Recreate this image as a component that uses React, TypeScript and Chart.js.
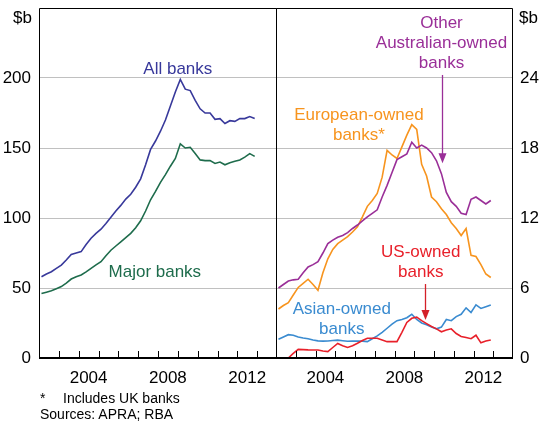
import React, { useEffect, useRef } from "react";
import { Chart, registerables } from "chart.js";

Chart.register(...registerables);

// ---------- data ----------
const quarters = [
  "2002 Q1", "2002 Q2", "2002 Q3", "2002 Q4",
  "2003 Q1", "2003 Q2", "2003 Q3", "2003 Q4",
  "2004 Q1", "2004 Q2", "2004 Q3", "2004 Q4",
  "2005 Q1", "2005 Q2", "2005 Q3", "2005 Q4",
  "2006 Q1", "2006 Q2", "2006 Q3", "2006 Q4",
  "2007 Q1", "2007 Q2", "2007 Q3", "2007 Q4",
  "2008 Q1", "2008 Q2", "2008 Q3", "2008 Q4",
  "2009 Q1", "2009 Q2", "2009 Q3", "2009 Q4",
  "2010 Q1", "2010 Q2", "2010 Q3", "2010 Q4",
  "2011 Q1", "2011 Q2", "2011 Q3", "2011 Q4",
  "2012 Q1", "2012 Q2", "2012 Q3", "2012 Q4",
];

const allBanks = [58, 60, 61.6, 64, 66.4, 70, 74, 75, 76, 81, 85.5, 89, 92, 96, 100.5, 105, 109, 113.5, 117, 122, 128, 138, 149, 155, 162, 170, 180, 190, 199, 192, 191, 184, 178, 175, 175, 170.5, 171, 167.5, 169.5, 169, 171, 171, 172.5, 171];
const majorBanks = [46, 47, 48, 49.5, 51, 53.5, 56.4, 58, 59.3, 61.5, 64, 66.5, 68.8, 73, 77, 80, 83, 86, 89, 93, 98, 105, 113, 119, 125.5, 131, 137, 142.5, 153, 150, 150.5, 146, 141.5, 141, 141, 139, 140, 138, 139.5, 140.5, 141.5, 143.5, 146, 144];

const otherAustralianOwned = [6.0, 6.3, 6.6, 6.7, 6.75, 7.3, 7.8, 8.0, 8.25, 9.0, 9.8, 10.1, 10.35, 10.5, 10.75, 11.1, 11.4, 11.75, 12.1, 12.4, 12.7, 13.8, 14.8, 15.9, 17.0, 17.25, 17.5, 18.5, 18.0, 18.25, 18.0, 17.6, 16.9, 15.8, 14.2, 13.4, 13.0, 12.4, 12.3, 13.6, 13.8, 13.5, 13.2, 13.5];
const europeanOwned = [4.2, 4.5, 4.75, 5.4, 6.05, 6.4, 6.75, 6.3, 5.8, 7.3, 8.5, 9.3, 9.8, 10.1, 10.4, 10.8, 11.25, 12.1, 13.0, 13.5, 14.1, 15.5, 17.8, 17.4, 17.1, 18.1, 19.1, 20.0, 19.6, 16.6, 15.6, 13.8, 13.4, 12.8, 12.3, 11.6, 11.1, 10.5, 11.1, 8.8, 8.7, 8.0, 7.2, 6.9];
const asianOwned = [1.6, 1.8, 2.0, 1.95, 1.8, 1.72, 1.65, 1.55, 1.47, 1.45, 1.46, 1.5, 1.53, 1.48, 1.43, 1.45, 1.46, 1.45, 1.4, 1.65, 1.9, 2.2, 2.55, 2.9, 3.2, 3.3, 3.45, 3.75, 3.3, 3.0, 2.85, 2.65, 2.5, 2.65, 3.3, 3.2, 3.55, 3.75, 4.3, 3.9, 4.55, 4.25, 4.4, 4.55];
const usOwned = [0, 0, 0, 0.4, 0.74, 0.72, 0.7, 0.69, 0.68, 0.6, 0.55, 0.9, 1.25, 1.05, 0.9, 1.05, 1.26, 1.5, 1.69, 1.69, 1.69, 1.55, 1.4, 1.4, 1.4, 2.2, 3.05, 3.4, 3.5, 3.2, 2.95, 2.7, 2.5, 2.25, 2.4, 2.5, 2.1, 1.85, 1.75, 1.65, 1.95, 1.3, 1.45, 1.55];

const leftTicks = [0, 50, 100, 150, 200];
const rightTicks = [0, 6, 12, 18, 24];
const yearLabels = [2004, 2008, 2012];
const xMin = 2002;
const xMax = 2014;
const leftMax = 250;
const rightMax = 30;

// ---------- styles ----------
const FONT = "Arial, 'Liberation Sans', Helvetica, sans-serif";
const C_ALL = "#38399b";
const C_MAJOR = "#1e6c4c";
const C_OTHER = "#9a2f98";
const C_EURO = "#f7941e";
const C_US = "#e8202a";
const C_ASIAN = "#3a8bd0";
const GRID = "#c0c0c0";

function quarterToYear(q: string): number {
  const [y, qq] = q.split(" Q");
  return Number(y) + (Number(qq) - 1) * 0.25 + 0.125;
}
const toPoints = (vals: number[]) => vals.map((v, i) => ({ x: quarterToYear(quarters[i]), y: v }));

type Note = { lines: string[]; color: string; x: number; y: number };
type Arrow = { x: number; from: number; to: number; color: string };

const leftNotes: Note[] = [
  { lines: ["All banks"], color: C_ALL, x: 2009.0, y: 206.2 },
  { lines: ["Major banks"], color: C_MAJOR, x: 2007.84, y: 60.9 },
];
const rightNotes: Note[] = [
  { lines: ["Other", "Australian-owned", "banks"], color: C_OTHER, x: 2010.38, y: 28.7 },
  { lines: ["European-owned", "banks*"], color: C_EURO, x: 2006.2, y: 20.83 },
  { lines: ["US-owned", "banks"], color: C_US, x: 2009.33, y: 9.03 },
  { lines: ["Asian-owned", "banks"], color: C_ASIAN, x: 2005.33, y: 4.17 },
];
const rightArrows: Arrow[] = [
  { x: 2010.39, from: 24.26, to: 16.69, color: C_OTHER },
  { x: 2009.54, from: 6.34, to: 3.26, color: "#d42028" },
];

function makePlugin(side: "left" | "right", notes: Note[], arrows: Arrow[]) {
  return {
    id: "frameAndNotes" + side,
    afterDatasetsDraw(chart: any) {
      const { ctx, chartArea, scales } = chart;
      const xs = scales.x;
      const ys = scales.y;
      const l = Math.round(chartArea.left) + 0.5;
      const r = Math.round(chartArea.right) - 0.5;
      const t = Math.round(chartArea.top) + 0.5;
      const b = Math.round(chartArea.bottom);
      ctx.save();
      // frame
      ctx.strokeStyle = "#000";
      ctx.lineWidth = 1;
      ctx.beginPath();
      ctx.moveTo(l, b);
      ctx.lineTo(l, t);
      ctx.lineTo(r, t);
      ctx.lineTo(r, b);
      ctx.stroke();
      ctx.lineWidth = 2;
      ctx.beginPath();
      ctx.moveTo(chartArea.left, b);
      ctx.lineTo(chartArea.right, b);
      ctx.stroke();
      // year tick marks pointing inward
      ctx.lineWidth = 1;
      ctx.beginPath();
      for (let yr = xMin + 1; yr < xMax; yr++) {
        const px = Math.round(xs.getPixelForValue(yr)) + 0.5;
        ctx.moveTo(px, b);
        ctx.lineTo(px, b - 7);
      }
      ctx.stroke();
      // unit label
      ctx.fillStyle = "#000";
      ctx.font = `17px ${FONT}`;
      ctx.textBaseline = "middle";
      if (side === "left") {
        ctx.textAlign = "right";
        ctx.fillText("$b", chartArea.left - 7, chartArea.top + 10.5);
      } else {
        ctx.textAlign = "left";
        ctx.fillText("$b", chartArea.right + 6, chartArea.top + 10.5);
      }
      // notes
      ctx.textAlign = "center";
      notes.forEach((n) => {
        ctx.fillStyle = n.color;
        const px = xs.getPixelForValue(n.x);
        const py = ys.getPixelForValue(n.y);
        n.lines.forEach((line, i) => ctx.fillText(line, px, py + i * 20));
      });
      // arrows
      arrows.forEach((a) => {
        const px = Math.round(xs.getPixelForValue(a.x)) + 0.5;
        const y0 = ys.getPixelForValue(a.from);
        const y1 = ys.getPixelForValue(a.to);
        ctx.strokeStyle = a.color;
        ctx.fillStyle = a.color;
        ctx.lineWidth = 1.3;
        ctx.beginPath();
        ctx.moveTo(px, y0);
        ctx.lineTo(px, y1 - 6);
        ctx.stroke();
        ctx.beginPath();
        ctx.moveTo(px, y1);
        ctx.lineTo(px - 4, y1 - 10);
        ctx.lineTo(px + 4, y1 - 10);
        ctx.closePath();
        ctx.fill();
      });
      ctx.restore();
    },
  };
}

function lineDs(label: string, vals: number[], color: string) {
  return {
    label,
    data: toPoints(vals),
    borderColor: color,
    backgroundColor: color,
    borderWidth: 1.6,
    pointRadius: 0,
    tension: 0,
    fill: false,
  };
}

function makeConfig(side: "left" | "right") {
  const isLeft = side === "left";
  const yTicks = isLeft ? leftTicks : rightTicks;
  const yMax = isLeft ? leftMax : rightMax;
  const datasets = isLeft
    ? [lineDs("All banks", allBanks, C_ALL), lineDs("Major banks", majorBanks, C_MAJOR)]
    : [
        lineDs("US-owned banks", usOwned, C_US),
        lineDs("Asian-owned banks", asianOwned, C_ASIAN),
        lineDs("Other Australian-owned banks", otherAustralianOwned, C_OTHER),
        lineDs("European-owned banks*", europeanOwned, C_EURO),
      ];
  return {
    type: "line" as const,
    data: { datasets },
    options: {
      responsive: false,
      animation: false as const,
      devicePixelRatio: 1,
      layout: { padding: { top: 8, left: 0, right: 0, bottom: 0 } },
      plugins: { legend: { display: false }, tooltip: { enabled: false }, title: { display: false } },
      scales: {
        x: {
          type: "linear" as const,
          min: xMin,
          max: xMax,
          afterFit: (s: any) => {
            s.height = 63;
            s.paddingLeft = 0;
            s.paddingRight = 0;
          },
          afterBuildTicks: (s: any) => {
            const arr: any[] = [];
            yearLabels.forEach((y) => arr.push({ value: y + 0.5 }));
            s.ticks = arr;
          },
          ticks: {
            autoSkip: false,
            maxRotation: 0,
            padding: 10,
            color: "#000",
            font: { family: FONT, size: 17 },
            callback: (v: any) => String(Math.floor(Number(v))),
          },
          grid: { display: false, drawTicks: false },
          border: { display: false },
        },
        y: {
          type: "linear" as const,
          position: side,
          min: 0,
          max: yMax,
          afterFit: (s: any) => {
            s.width = isLeft ? 39 : 26;
            s.paddingTop = 0;
            s.paddingBottom = 0;
          },
          afterBuildTicks: (s: any) => {
            s.ticks = [...yTicks, yMax].map((v) => ({ value: v }));
          },
          ticks: {
            padding: isLeft ? 8 : 7,
            color: "#000",
            font: { family: FONT, size: 17 },
            callback: (v: any) => (Number(v) === yMax ? "" : String(v)),
          },
          grid: {
            drawTicks: false,
            lineWidth: 1,
            color: (c: any) =>
              c.tick && (c.tick.value === 0 || c.tick.value === yMax) ? "rgba(0,0,0,0)" : GRID,
          },
          border: { display: false },
        },
      },
    },
    plugins: [makePlugin(side, isLeft ? leftNotes : rightNotes, isLeft ? [] : rightArrows)],
  };
}

function Panel({ side, left, width }: { side: "left" | "right"; left: number; width: number }) {
  const ref = useRef<HTMLCanvasElement | null>(null);
  useEffect(() => {
    if (!ref.current) return;
    const chart = new Chart(ref.current, makeConfig(side) as any);
    return () => chart.destroy();
  }, [side]);
  return (
    <canvas
      ref={ref}
      width={width}
      height={421}
      style={{ position: "absolute", left, top: 0, width, height: 421 }}
    />
  );
}

export default function App() {
  return (
    <div
      style={{
        position: "absolute",
        left: 0,
        top: 0,
        width: 539,
        height: 421,
        background: "#fff",
        overflow: "hidden",
        fontFamily: FONT,
      }}
    >
      <Panel side="left" left={0} width={277} />
      <Panel side="right" left={276} width={263} />
      <div style={{ position: "absolute", left: 40, top: 390, fontSize: 14, lineHeight: "17px", color: "#000" }}>*</div>
      <div style={{ position: "absolute", left: 63, top: 390, fontSize: 14, lineHeight: "17px", color: "#000" }}>
        Includes UK banks
      </div>
      <div style={{ position: "absolute", left: 40, top: 406, fontSize: 14, lineHeight: "17px", color: "#000" }}>
        Sources: APRA; RBA
      </div>
    </div>
  );
}
